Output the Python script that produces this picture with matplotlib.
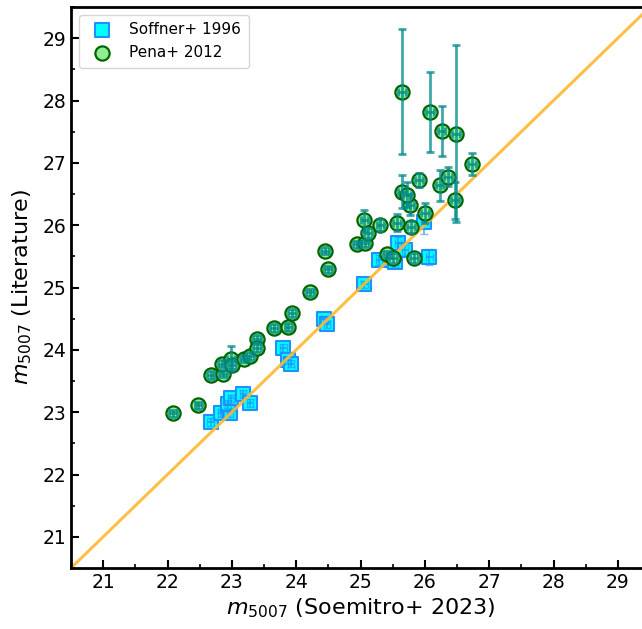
import numpy as np
import matplotlib.pyplot as plt
from matplotlib.ticker import MultipleLocator

# Soffner+ 1996 (squares)
soff_x = [22.67, 22.83, 22.97, 22.94, 22.99, 23.17, 23.28, 23.80, 23.87, 23.92,
          24.44, 24.48, 25.06, 25.29, 25.49, 25.54, 25.58, 25.69, 26.07, 25.99]
soff_y = [22.84, 22.99, 22.99, 23.13, 23.22, 23.29, 23.15, 24.03, 23.83, 23.78,
          24.49, 24.41, 25.05, 25.44, 25.44, 25.41, 25.71, 25.60, 25.49, 26.05]
soff_xerr = [0.05] * len(soff_x)
soff_yerr = [0.06, 0.06, 0.06, 0.06, 0.06, 0.06, 0.06, 0.06, 0.06, 0.06,
             0.06, 0.06, 0.06, 0.08, 0.08, 0.08, 0.10, 0.08, 0.13, 0.19]

# Pena+ 2012 (circles)
pena_x = [22.09, 22.48, 22.67, 22.86, 22.84, 22.99, 23.00, 23.19, 23.28, 23.39,
          23.39, 23.65, 23.88, 23.93, 24.21, 24.49, 24.45, 24.95, 25.07, 25.06,
          25.12, 25.31, 25.41, 25.51, 25.57, 25.83, 25.79, 25.77, 26.00, 25.64,
          25.72, 25.91, 26.23, 26.36, 26.47, 26.73, 25.64, 26.08, 26.26, 26.49]
pena_y = [22.98, 23.11, 23.60, 23.62, 23.78, 23.86, 23.76, 23.86, 23.90, 24.17,
          24.03, 24.35, 24.37, 24.59, 24.92, 25.29, 25.59, 25.69, 25.71, 26.08,
          25.88, 26.00, 25.53, 25.47, 26.04, 25.48, 25.97, 26.33, 26.20, 26.54,
          26.49, 26.73, 26.64, 26.78, 26.40, 26.98, 28.14, 27.82, 27.51, 27.47]
pena_xerr = [0.06] * len(pena_x)
pena_yerr = [0.06, 0.06, 0.06, 0.06, 0.06, 0.20, 0.06, 0.06, 0.06, 0.06,
             0.06, 0.06, 0.06, 0.06, 0.06, 0.06, 0.06, 0.06, 0.06, 0.17,
             0.08, 0.10, 0.06, 0.08, 0.14, 0.08, 0.10, 0.17, 0.16, 0.27,
             0.20, 0.11, 0.25, 0.15, 0.30, 0.17, 1.00, 0.64, 0.40, 1.42]

fig = plt.figure(figsize=(6.42, 6.29), dpi=100)
ax = fig.add_axes([71 / 642, 61 / 629, 579 / 642, 561 / 629])

ax.scatter(soff_x, soff_y, marker='s', s=105, c='#00ffff', edgecolors='#1e90ff',
           linewidths=1.5, zorder=1, label='Soffner+ 1996')
ax.errorbar(soff_x, soff_y, xerr=soff_xerr, yerr=soff_yerr, fmt='none',
            ecolor='#1e90ff', elinewidth=1.5, capsize=3, alpha=0.6, zorder=1.5)

lims = [20.5, 29.5]
ax.plot(lims, lims, color='#ffb833', lw=2.2, alpha=0.9, zorder=2)

ax.scatter(pena_x, pena_y, marker='o', s=105, c='#90ee90', edgecolors='#006400',
           linewidths=1.6, zorder=3, label='Pena+ 2012')
ax.errorbar(pena_x, pena_y, xerr=pena_xerr, yerr=pena_yerr, fmt='none',
            ecolor='darkcyan', elinewidth=2, capsize=3, capthick=2, alpha=0.75, zorder=4)

ax.set_xlim(lims)
ax.set_ylim(lims)
ax.xaxis.set_major_locator(MultipleLocator(1))
ax.yaxis.set_major_locator(MultipleLocator(1))
ax.xaxis.set_minor_locator(MultipleLocator(0.5))
ax.yaxis.set_minor_locator(MultipleLocator(0.5))
ax.tick_params(which='major', direction='in', length=6, width=1.5, labelsize=13.5)
ax.tick_params(which='minor', direction='in', length=3, width=1.2)
for sp in ax.spines.values():
    sp.set_linewidth(2)

ax.set_xlabel(r'$m_{5007}$ (Soemitro+ 2023)', fontsize=16, labelpad=3)
ax.set_ylabel(r'$m_{5007}$ (Literature)', fontsize=16, labelpad=6)

ax.legend(loc='upper left', fontsize=11, frameon=True, borderpad=0.5,
          handletextpad=0.8, labelspacing=0.5)

plt.savefig('out.png', dpi=100)
